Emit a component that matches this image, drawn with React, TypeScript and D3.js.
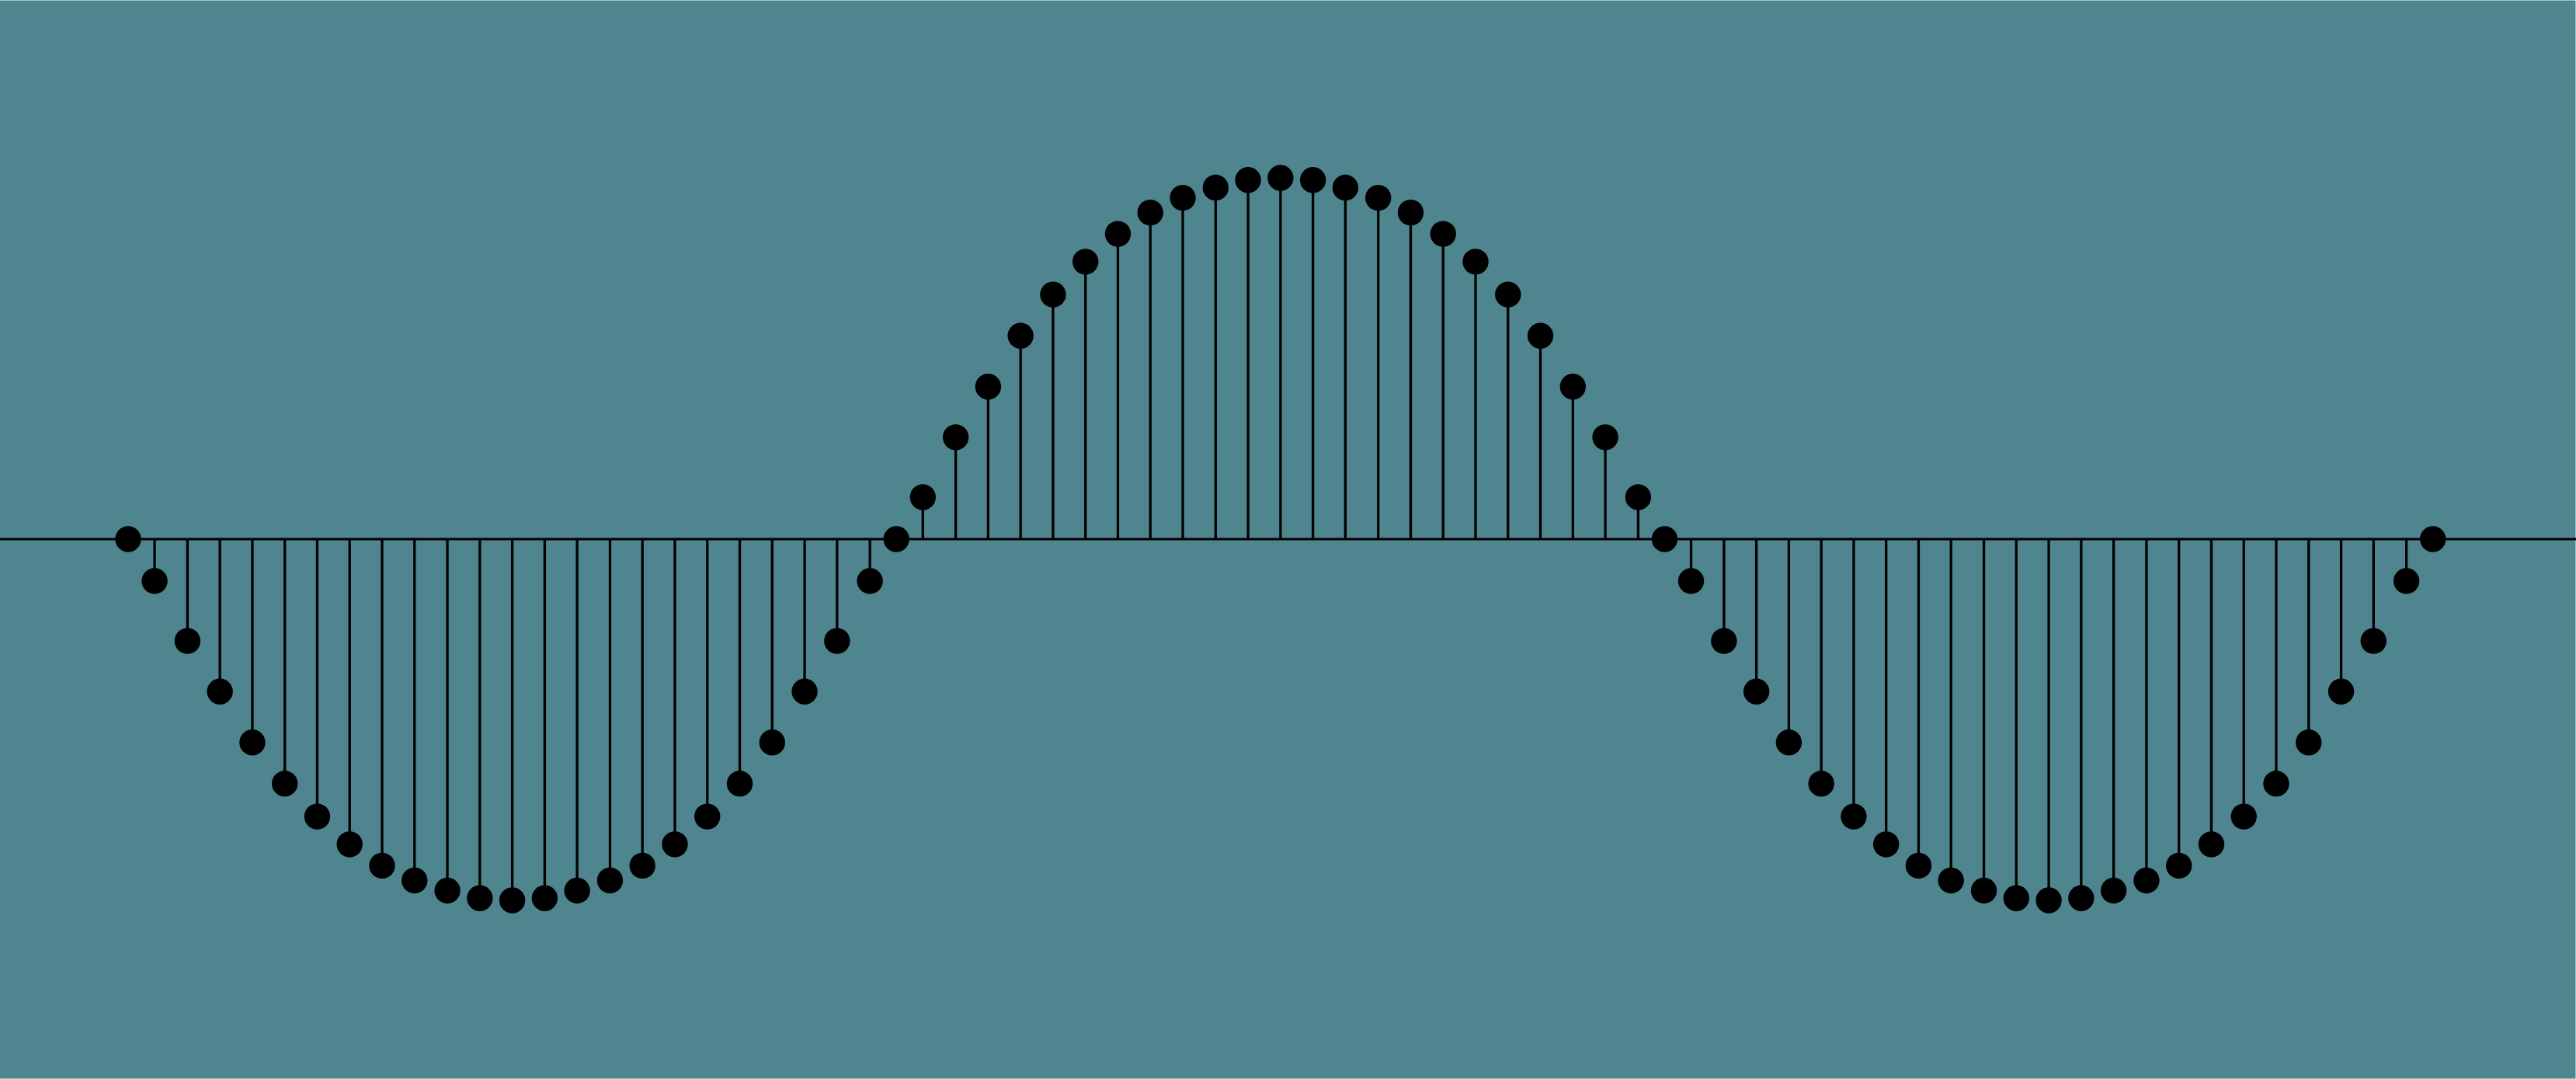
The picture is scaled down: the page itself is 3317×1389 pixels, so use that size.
import React, { useEffect, useRef } from "react";
import * as d3 from "d3";

// Sample positions (degrees) and normalized stem values
const xDeg: number[] = [
  0, 6.2, 13.9, 21.5, 29.1, 36.7, 44.3, 51.9, 59.5, 67.1, 74.8, 82.4, 90.0,
  97.6, 105.2, 112.9, 120.5, 128.1, 135.7, 143.3, 150.9, 158.5, 166.1, 173.8,
  180.0, 186.2, 193.9, 201.5, 209.1, 216.7, 224.3, 231.9, 239.5, 247.1, 254.8,
  262.4, 270.0, 277.6, 285.2, 292.9, 300.5, 308.1, 315.7, 323.3, 330.9, 338.5,
  346.1, 353.8,
  360.0, 366.2, 373.9, 381.5, 389.1, 396.7, 404.3, 411.9, 419.5, 427.1, 434.8,
  442.4, 450.0, 457.6, 465.2, 472.9, 480.5, 488.1, 495.7, 503.3, 510.9, 518.5,
  526.1, 533.8, 540.0,
];

const values: number[] = [
  0, -0.116, -0.282, -0.422, -0.563, -0.677, -0.768, -0.845, -0.904, -0.945,
  -0.973, -0.994, -1.0, -0.994, -0.973, -0.945, -0.904, -0.845, -0.768, -0.677,
  -0.563, -0.422, -0.282, -0.116,
  0, 0.116, 0.282, 0.422, 0.563, 0.677, 0.768, 0.845, 0.904, 0.945, 0.973,
  0.994, 1.0, 0.994, 0.973, 0.945, 0.904, 0.845, 0.768, 0.677, 0.563, 0.422,
  0.282, 0.116,
  0, -0.116, -0.282, -0.422, -0.563, -0.677, -0.768, -0.845, -0.904, -0.945,
  -0.973, -0.994, -1.0, -0.994, -0.973, -0.945, -0.904, -0.845, -0.768, -0.677,
  -0.563, -0.422, -0.282, -0.116, 0,
];

const W = 3317;
const H = 1389;

export default function App() {
  const ref = useRef<SVGSVGElement | null>(null);

  useEffect(() => {
    const svg = d3.select(ref.current);
    svg.selectAll("*").remove();

    const x = d3.scaleLinear().domain([0, 540]).range([165, 3132.7]);
    const y = d3.scaleLinear().domain([-1, 1]).range([1159, 229]);

    svg
      .append("rect")
      .attr("x", 0)
      .attr("y", 0.5)
      .attr("width", W - 0.5)
      .attr("height", H - 1)
      .attr("fill", "#4f858e");

    // baseline
    svg
      .append("line")
      .attr("x1", 0)
      .attr("x2", W)
      .attr("y1", y(0))
      .attr("y2", y(0))
      .attr("stroke", "#000")
      .attr("stroke-width", 2.8);

    const data = xDeg.map((d, i) => ({ x: d, v: values[i] }));

    svg
      .append("g")
      .selectAll("line")
      .data(data)
      .join("line")
      .attr("x1", (d) => x(d.x))
      .attr("x2", (d) => x(d.x))
      .attr("y1", y(0))
      .attr("y2", (d) => y(d.v))
      .attr("stroke", "#000")
      .attr("stroke-width", 3.3);

    svg
      .append("g")
      .selectAll("circle")
      .data(data)
      .join("circle")
      .attr("cx", (d) => x(d.x))
      .attr("cy", (d) => y(d.v))
      .attr("r", 16.7)
      .attr("fill", "#000");
  }, []);

  return (
    <svg
      ref={ref}
      width={W}
      height={H}
      style={{ position: "fixed", left: 0, top: 0, background: "#fff", display: "block" }}
    />
  );
}
